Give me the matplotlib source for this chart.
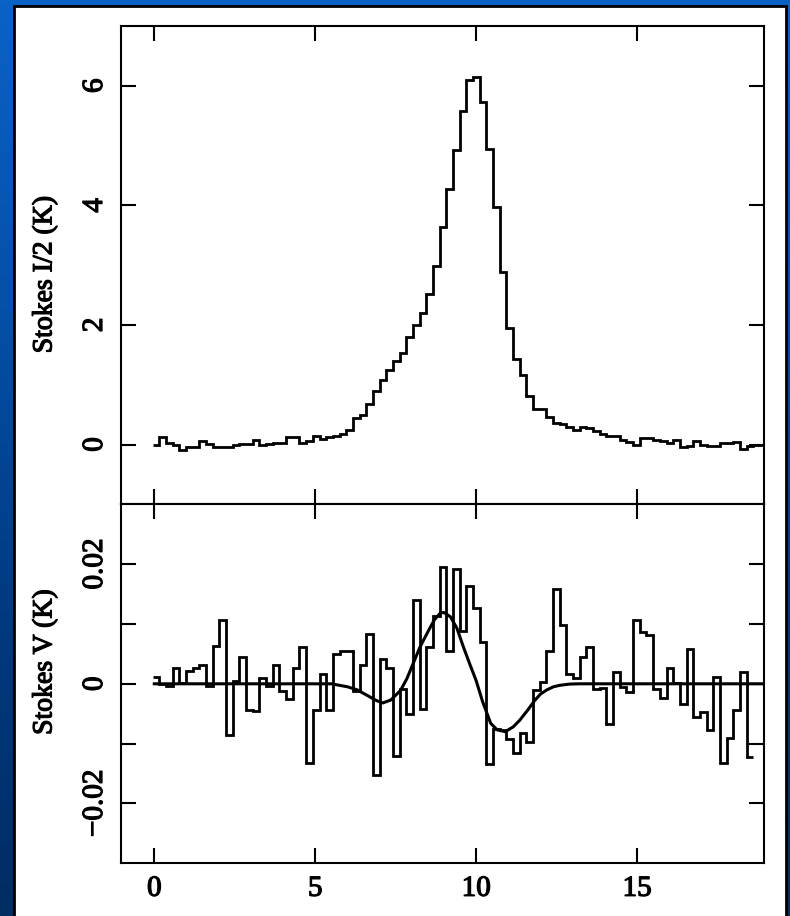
import numpy as np
import matplotlib
matplotlib.use("Agg")
import matplotlib.pyplot as plt
import matplotlib.patheffects as pe
from matplotlib.patches import Rectangle
from matplotlib.ticker import FixedLocator, FixedFormatter
from matplotlib.colors import LinearSegmentedColormap

# ---------------- data ----------------
chan_start = -0.05      # first channel edge (velocity)
chan_width = 0.2073     # channel width

stokes_I_half = [
    0.00, 0.12, 0.02, -0.01, -0.09, -0.04, -0.04, 0.06, 0.01, -0.04,
    -0.04, -0.04, -0.01, 0.01, 0.01, 0.07, -0.01, 0.01, 0.02, 0.03,
    0.12, 0.12, 0.02, 0.06, 0.14, 0.09, 0.13, 0.15, 0.17, 0.25,
    0.44, 0.49, 0.68, 0.90, 1.08, 1.25, 1.39, 1.53, 1.79, 2.00,
    2.20, 2.52, 2.98, 3.63, 4.27, 4.93, 5.58, 6.10, 6.14, 5.73,
    4.95, 3.98, 2.89, 1.95, 1.43, 1.16, 0.81, 0.60, 0.59, 0.46,
    0.36, 0.34, 0.30, 0.24, 0.30, 0.27, 0.23, 0.17, 0.15, 0.15,
    0.08, 0.05, 0.00, 0.11, 0.11, 0.07, 0.06, 0.03, 0.08, -0.04,
    -0.03, 0.06, -0.01, -0.03, -0.03, 0.02, 0.02, 0.04, -0.07, -0.03,
    0.00, 0.00,
]

stokes_V_centiK = [
    0.11, 0.00, -0.03, 0.27, 0.02, 0.21, 0.26, 0.32, -0.03, 0.64,
    1.06, -0.85, 0.04, 0.44, -0.43, -0.46, 0.09, -0.03, 0.31, -0.12,
    -0.26, 0.27, 0.62, -1.32, -0.43, 0.17, -0.44, 0.49, 0.55, 0.55,
    -0.12, 0.31, 0.83, -1.53, 0.41, 0.26, -1.21, -0.08, -0.50, 1.40,
    -0.42, 0.61, 1.13, 1.96, 0.55, 1.92, 0.89, 1.63, 1.26, 0.70,
    -1.34, -0.75, -0.78, -0.92, -1.15, -0.82, -0.97, -0.11, 0.03, 0.54,
    1.58, 0.99, 0.17, 0.10, 0.45, 0.61, -0.09, -0.07, -0.68, 0.19,
    -0.05, -0.13, 1.07, 0.86, 0.82, -0.08, -0.23, 0.26, 0.02, -0.34,
    0.58, -0.55, -0.47, -0.78, 0.12, -1.32, -0.90, -0.44, 0.19, -1.22,
]

fit_v = [0.0, 4.5, 5.5, 6.0, 6.3, 6.6, 6.9, 7.1, 7.35, 7.65, 7.85, 8.05, 8.25,
         8.5, 8.7, 8.9, 9.0, 9.2, 9.4, 9.6, 9.8, 10.0, 10.2, 10.45, 10.65,
         10.9, 11.15, 11.35, 11.6, 11.8, 12.0, 12.2, 12.4, 12.6, 12.9, 13.2, 19.0]
fit_V_centiK = [0.0, 0.0, 0.0, -0.05, -0.10, -0.19, -0.28, -0.32, -0.27, -0.11,
                0.09, 0.35, 0.61, 0.87, 1.07, 1.19, 1.19, 1.12, 0.93, 0.62,
                0.33, 0.05, -0.30, -0.66, -0.77, -0.80, -0.72, -0.61, -0.44,
                -0.29, -0.17, -0.10, -0.05, -0.025, -0.005, 0.0, 0.0]

x_ticks = [0, 5, 10, 15]
x_ticklabels = ["0", "5", "10", "15"]
I_ticks = [0, 2, 4, 6]
I_ticklabels = ["0", "2", "4", "6"]
V_ticks = [-0.02, -0.01, 0.0, 0.01, 0.02]
V_ticklabels = ["\u22120.02", "", "0", "", "0.02"]

# ---------------- figure ----------------
W, H = 790, 916
fig = plt.figure(figsize=(W / 100, H / 100), dpi=100)

# slide background (blue gradient) + white panel
bg = fig.add_axes([0, 0, 1, 1], zorder=-10)
grad = np.linspace(0, 1, 256).reshape(-1, 1)
cmap = LinearSegmentedColormap.from_list("slide", ["#0a62c6", "#0550a8", "#003a80", "#002d62"])
bg.imshow(grad, aspect="auto", cmap=cmap, extent=[0, 1, 0, 1], origin="upper")
bg.add_patch(Rectangle((14 / W, -0.01), (786 - 14) / W, 1.01 - 6 / H,
                       facecolor="white", edgecolor="black", linewidth=2.0))
bg.set_xlim(0, 1)
bg.set_ylim(0, 1)
bg.axis("off")

plt.rcParams["font.family"] = ["Liberation Serif", "DejaVu Serif"]
thick = [pe.withStroke(linewidth=0.9, foreground="black")]

left, width = 120.5 / W, (764.3 - 120.5) / W
ax1 = fig.add_axes([left, 1 - 504.3 / H, width, (504.3 - 26) / H])
ax2 = fig.add_axes([left, 1 - 863.3 / H, width, (863.3 - 504.3) / H])

edges_I = chan_start + chan_width * np.arange(len(stokes_I_half) + 1)
edges_V = chan_start + chan_width * np.arange(len(stokes_V_centiK) + 1)

ax1.stairs(stokes_I_half, edges_I, baseline=None, color="black", linewidth=2.0)
ax2.stairs(np.array(stokes_V_centiK) * 0.01, edges_V, baseline=None, color="black", linewidth=2.0)
ax2.plot(fit_v, np.array(fit_V_centiK) * 0.01, color="black", linewidth=2.2)

for ax in (ax1, ax2):
    ax.set_xlim(-1.05, 18.95)
    ax.xaxis.set_major_locator(FixedLocator(x_ticks))
    ax.tick_params(which="major", direction="in", length=11, width=1.5,
                   top=True, right=True, labelsize=21, pad=9)
    ax.tick_params(axis="y", labelrotation=90)
    for sp in ax.spines.values():
        sp.set_linewidth(1.5)
    ax.minorticks_off()

ax1.set_ylim(-1, 7)
ax1.yaxis.set_major_locator(FixedLocator(I_ticks))
ax1.yaxis.set_major_formatter(FixedFormatter(I_ticklabels))
ax1.tick_params(labelbottom=False)
ax1.set_ylabel("Stokes I/2 (K)", fontsize=20, path_effects=thick)

ax2.set_ylim(-0.03, 0.03)
ax2.yaxis.set_major_locator(FixedLocator(V_ticks))
ax2.yaxis.set_major_formatter(FixedFormatter(V_ticklabels))
ax2.xaxis.set_major_formatter(FixedFormatter(x_ticklabels))
ax2.set_ylabel("Stokes V (K)", fontsize=20, path_effects=thick)

fig.canvas.draw()
for ax in (ax1, ax2):
    for lab in ax.get_yticklabels():
        lab.set_verticalalignment("center")
        lab.set_path_effects(thick)
    for lab in ax.get_xticklabels():
        lab.set_path_effects(thick)

ax1.yaxis.set_label_coords(-0.098, 0.48)
ax2.yaxis.set_label_coords(-0.098, 0.56)

fig.savefig("out.png", dpi=100)
